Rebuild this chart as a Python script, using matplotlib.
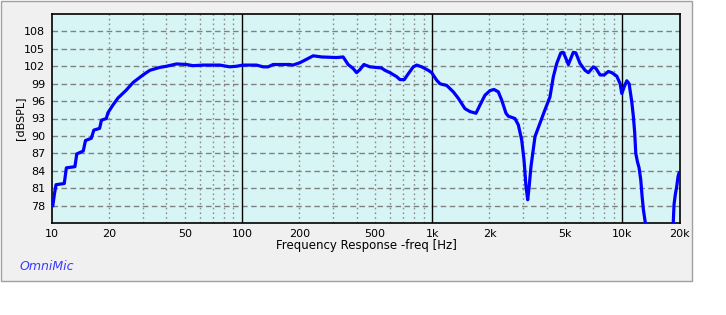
import numpy as np
import matplotlib
matplotlib.use("Agg")
import matplotlib.pyplot as plt
from matplotlib.patches import Rectangle
from matplotlib.ticker import FixedLocator, NullFormatter

# ---- data ----
freq_hz = [10.1, 10.3, 10.5, 11.6, 11.9, 13.2, 13.5, 14.6, 15.0, 16.1, 16.6, 17.8, 18.2, 19.3, 19.7,
           20.9, 22.2, 24.6, 26.7, 30.1, 32.7, 36.9, 40, 45.2, 51, 55.2, 62.3, 76.3, 86.1, 93.4,
           101, 119, 129, 137, 145.5, 178, 185, 201, 209.6, 227, 236.5, 262, 314, 340, 361, 384,
           400, 416, 437, 470, 541, 564, 599, 650, 676, 713, 748, 795, 828, 880, 953, 993,
           1055, 1097, 1121, 1191, 1290, 1370, 1486, 1578, 1698, 1782, 1893, 2012, 2112, 2225,
           2318, 2443, 2512, 2723, 2837, 2955, 3038, 3113, 3177, 3228, 3306, 3472, 3689, 3917,
           4160, 4335, 4519, 4745, 4890, 5055, 5200, 5350, 5520, 5690, 5985, 6365, 6625, 7035,
           7270, 7635, 8015, 8440, 8795, 9345, 9730, 9935, 10210, 10550, 10850, 11207, 11430,
           11615, 11764, 11995, 12245, 12500, 12700, 12900, 13170, 13350,
           15500,
           18400, 18535, 18700, 18990, 19320, 19630, 19860]
spl_db = [78.0, 80.0, 81.6, 81.8, 84.5, 84.7, 86.9, 87.4, 89.2, 89.6, 91.0, 91.3, 92.7, 93.0, 94.0,
          95.3, 96.5, 97.9, 99.2, 100.5, 101.3, 101.8, 102.0, 102.4, 102.3, 102.1, 102.2, 102.2, 101.9, 102.0,
          102.2, 102.2, 101.9, 101.9, 102.3, 102.3, 102.2, 102.6, 102.9, 103.5, 103.8, 103.6, 103.5, 103.6, 102.3, 101.6,
          100.9, 101.4, 102.3, 101.9, 101.7, 101.3, 100.9, 100.2, 99.7, 99.7, 100.7, 101.9, 102.2, 101.9, 101.3, 100.9,
          99.6, 99.0, 98.9, 98.7, 97.6, 96.5, 94.7, 94.2, 93.9, 95.3, 97.0, 97.8, 98.0, 97.6,
          96.2, 93.9, 93.4, 93.0, 91.9, 89.3, 85.9, 81.3, 79.0, 81.0, 84.7, 89.9, 92.2, 94.5,
          96.7, 100.2, 102.5, 104.3, 104.4, 103.3, 102.3, 103.3, 104.4, 104.3, 102.5, 101.3, 100.9, 101.9,
          101.6, 100.5, 100.5, 101.1, 100.9, 100.3, 99.0, 97.3, 98.4, 99.5, 99.0, 95.9, 93.3,
          90.5, 87.0, 85.6, 84.5, 82.4, 79.6, 77.3, 75.3, 74.0,
          np.nan,
          74.0, 75.3, 78.2, 79.9, 81.3, 83.0, 83.6]

y_ticks = [78, 81, 84, 87, 90, 93, 96, 99, 102, 105, 108]
x_ticks = [10, 20, 50, 100, 200, 500, 1000, 2000, 5000, 10000, 20000]
x_tick_labels = ["10", "20", "50", "100", "200", "500", "1k", "2k", "5k", "10k", "20k"]
x_minor = [m * d for d in (10, 100, 1000, 10000) for m in range(2, 10) if m * d < 20000]
x_decades = [100, 1000, 10000]

W, H = 726, 315
fig = plt.figure(figsize=(W / 100, H / 100), dpi=100)
fig.patch.set_facecolor("white")

# grey panel
panel = Rectangle((0.5 / W, 1 - 280.5 / H), 691.5 / W, 279.5 / H, transform=fig.transFigure,
                  facecolor="#f0f0f0", edgecolor="#a0a0a0", linewidth=1.0, zorder=-10)
fig.patches.append(panel)

L, R, T, B = 52, 680, 14, 223
ax = fig.add_axes([L / W, 1 - B / H, (R - L) / W, (B - T) / H])
ax.set_facecolor("#d8f5f5")
ax.set_xscale("log")
ax.set_xlim(10, 20100)
ax.set_ylim(75.0, 111.0)

# grid
for yv in y_ticks:
    ax.axhline(yv, color="#808080", lw=1.0, ls=(0, (4, 2.5)), zorder=1)
for xv in x_minor:
    ax.axvline(xv, color="#8a8a8a", lw=1.0, ls=(0, (1.2, 2.2)), zorder=1)
for xv in x_decades:
    ax.axvline(xv, color="black", lw=1.0, zorder=1)

ax.plot(freq_hz, spl_db, color="#0000ff", lw=2.3, zorder=3, solid_joinstyle="round")

ax.xaxis.set_major_locator(FixedLocator(x_ticks))
ax.xaxis.set_minor_locator(FixedLocator(x_minor))
ax.xaxis.set_minor_formatter(NullFormatter())
ax.set_xticklabels(x_tick_labels)
ax.set_yticks(y_ticks)
ax.tick_params(axis="both", which="both", length=0, labelsize=8, colors="black")
ax.tick_params(axis="x", pad=4)
ax.tick_params(axis="y", pad=5)
for s in ax.spines.values():
    s.set_color("black")
    s.set_linewidth(1.2)

fig.text(366 / W, 1 - 245 / H, "Frequency Response -freq [Hz]", ha="center", va="center",
         fontsize=8.5, color="black")
fig.text(20.5 / W, 1 - 118 / H, "[dBSPL]", ha="center", va="center", rotation=90,
         fontsize=8, color="black")
fig.text(20 / W, 1 - 266 / H, "OmniMic", ha="left", va="center", fontsize=9,
         style="italic", color="#3a3aff")

fig.savefig("out.png", dpi=100, facecolor=fig.get_facecolor())
